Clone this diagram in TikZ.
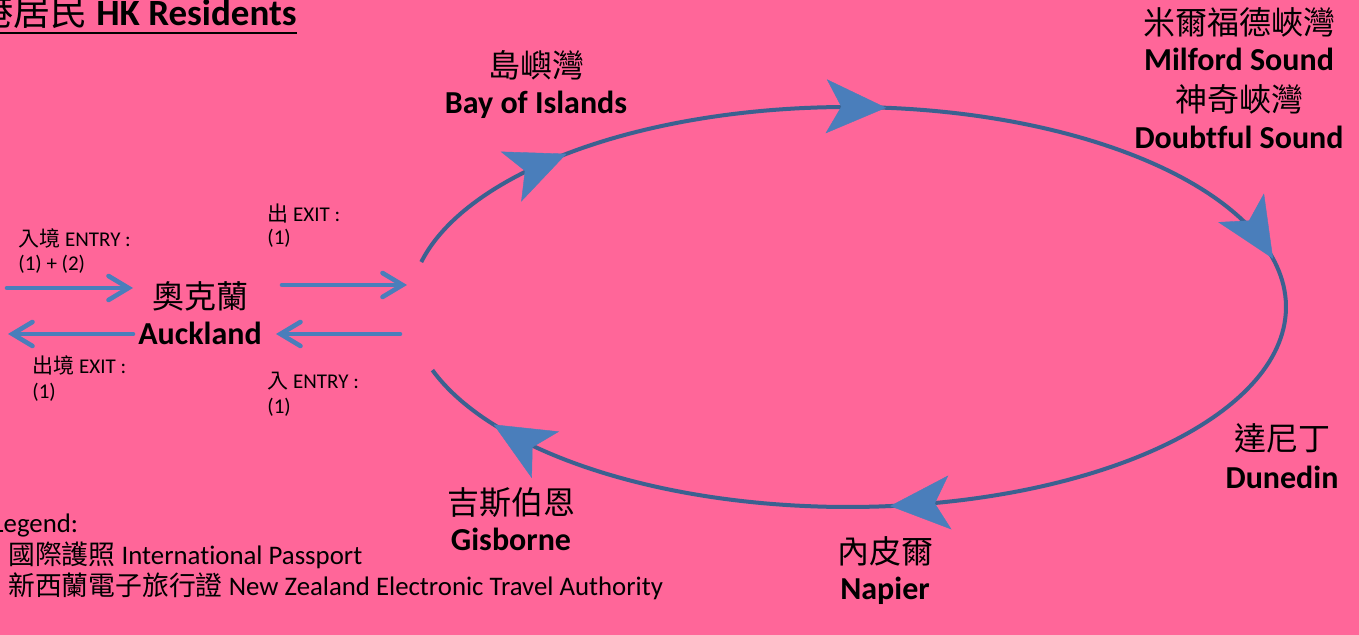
\documentclass[tikz,border=0pt]{standalone}
\usepackage{fontspec}
\setmainfont{Carlito}[Ligatures=CommonOff]
\newfontfamily\cjk{Noto Sans CJK TC}
\usetikzlibrary{arrows.meta,calc}
\definecolor{bgpink}{HTML}{FF6699}
\definecolor{ringblue}{HTML}{3B6190}
\definecolor{tipblue}{HTML}{4A7EBB}
\begin{document}
\begin{tikzpicture}[x=0.5pt,y=-0.5pt,
  cjkplace/.style={anchor=base, inner sep=0, font=\fontsize{16}{19}\selectfont\cjk},
  enplace/.style={anchor=base, inner sep=0, font=\fontsize{16}{19}\selectfont\bfseries},
  small/.style={anchor=base west, inner sep=0, font=\fontsize{10.5}{12}\selectfont},
  legendtxt/.style={anchor=base west, inner sep=0, font=\fontsize{13.4}{15}\selectfont},
  flow/.style={draw=tipblue, line width=2.3pt, line cap=round,
    -{Straight Barb[length=10pt,width=12pt,line cap=round]}},
  ring/.style={draw=ringblue, line width=2pt},
  tiphead/.style={draw=tipblue, fill=tipblue, line width=0.2pt,
    -{Stealth[length=30pt,width=27pt,inset=7.5pt]}}]
\useasboundingbox (0,0) rectangle (1359,635);
\fill[bgpink] (0,0) rectangle (1359,635);
\clip (0,0) rectangle (1359,635);

% title
\node[anchor=base east, inner sep=0, font=\fontsize{18.5}{22}\selectfont] (title) at (297,26)
  {{\cjk 香港居民} \bfseries HK Residents};
\draw[line width=1pt] ($(title.base west)+(0,7)$) -- ($(title.base east)+(0,7)$);

% loop
\draw[ring] plot[domain=-161.6:167, samples=240] ({848+438*cos(\x)},{307-200*sin(\x)});
\foreach \t in {130,85,14,-84.5,-144}{
  \draw[tiphead] ({848+438*cos(\t+4)},{307-200*sin(\t+4)}) -- ({848+438*cos(\t)},{307-200*sin(\t)});
}

% Auckland arrows
\coordinate (a1s) at (7,288);   \coordinate (a1e) at (133,288);
\coordinate (a2s) at (282,285); \coordinate (a2e) at (407,285);
\coordinate (a3s) at (133,334); \coordinate (a3e) at (8,334);
\coordinate (a4s) at (400,334); \coordinate (a4e) at (276,334);
\draw[flow] (a1s) -- (a1e);
\draw[flow] (a2s) -- (a2e);
\draw[flow] (a3s) -- (a3e);
\draw[flow] (a4s) -- (a4e);

% small labels
\node[small] (l1a) at (267,222) {{\cjk 出} EXIT :};
\node[small] (l1b) at (267,245) {(1)};
\node[small] (l2a) at (18,247) {{\cjk 入境} ENTRY :};
\node[small] (l2b) at (18,271) {(1) + (2)};
\node[small] (l3a) at (32,374) {{\cjk 出境} EXIT :};
\node[small] (l3b) at (32,399) {(1)};
\node[small] (l4a) at (267,389) {{\cjk 入} ENTRY :};
\node[small] (l4b) at (267,414) {(1)};

% places
\node[cjkplace] (aucz) at (200,309) {奧克蘭};
\node[enplace]  (auce) at (200,345) {Auckland};
\node[cjkplace] (bayz) at (536,78) {島嶼灣};
\node[enplace]  (baye) at (536,114) {Bay of Islands};
\node[cjkplace] (milz) at (1239,35) {米爾福德峽灣};
\node[enplace]  (mile) at (1239,71) {Milford Sound};
\node[cjkplace] (douz) at (1239,112) {神奇峽灣};
\node[enplace]  (doue) at (1239,149) {Doubtful Sound};
\node[cjkplace] (dunz) at (1282,451) {達尼丁};
\node[enplace]  (dune) at (1282,488) {Dunedin};
\node[cjkplace] (napz) at (885,563) {內皮爾};
\node[enplace]  (nape) at (885,599) {Napier};
\node[cjkplace] (gisz) at (511,515) {吉斯伯恩};
\node[enplace]  (gise) at (511,551) {Gisborne};

% legend
\node[legendtxt] (leg0) at (-8,532) {Legend:};
\node[legendtxt] (leg1) at (8,564) {{\cjk 國際護照} International Passport};
\node[legendtxt] (leg2) at (8,596) {{\cjk 新西蘭電子旅行證} New Zealand Electronic Travel Authority};
\end{tikzpicture}
\end{document}
